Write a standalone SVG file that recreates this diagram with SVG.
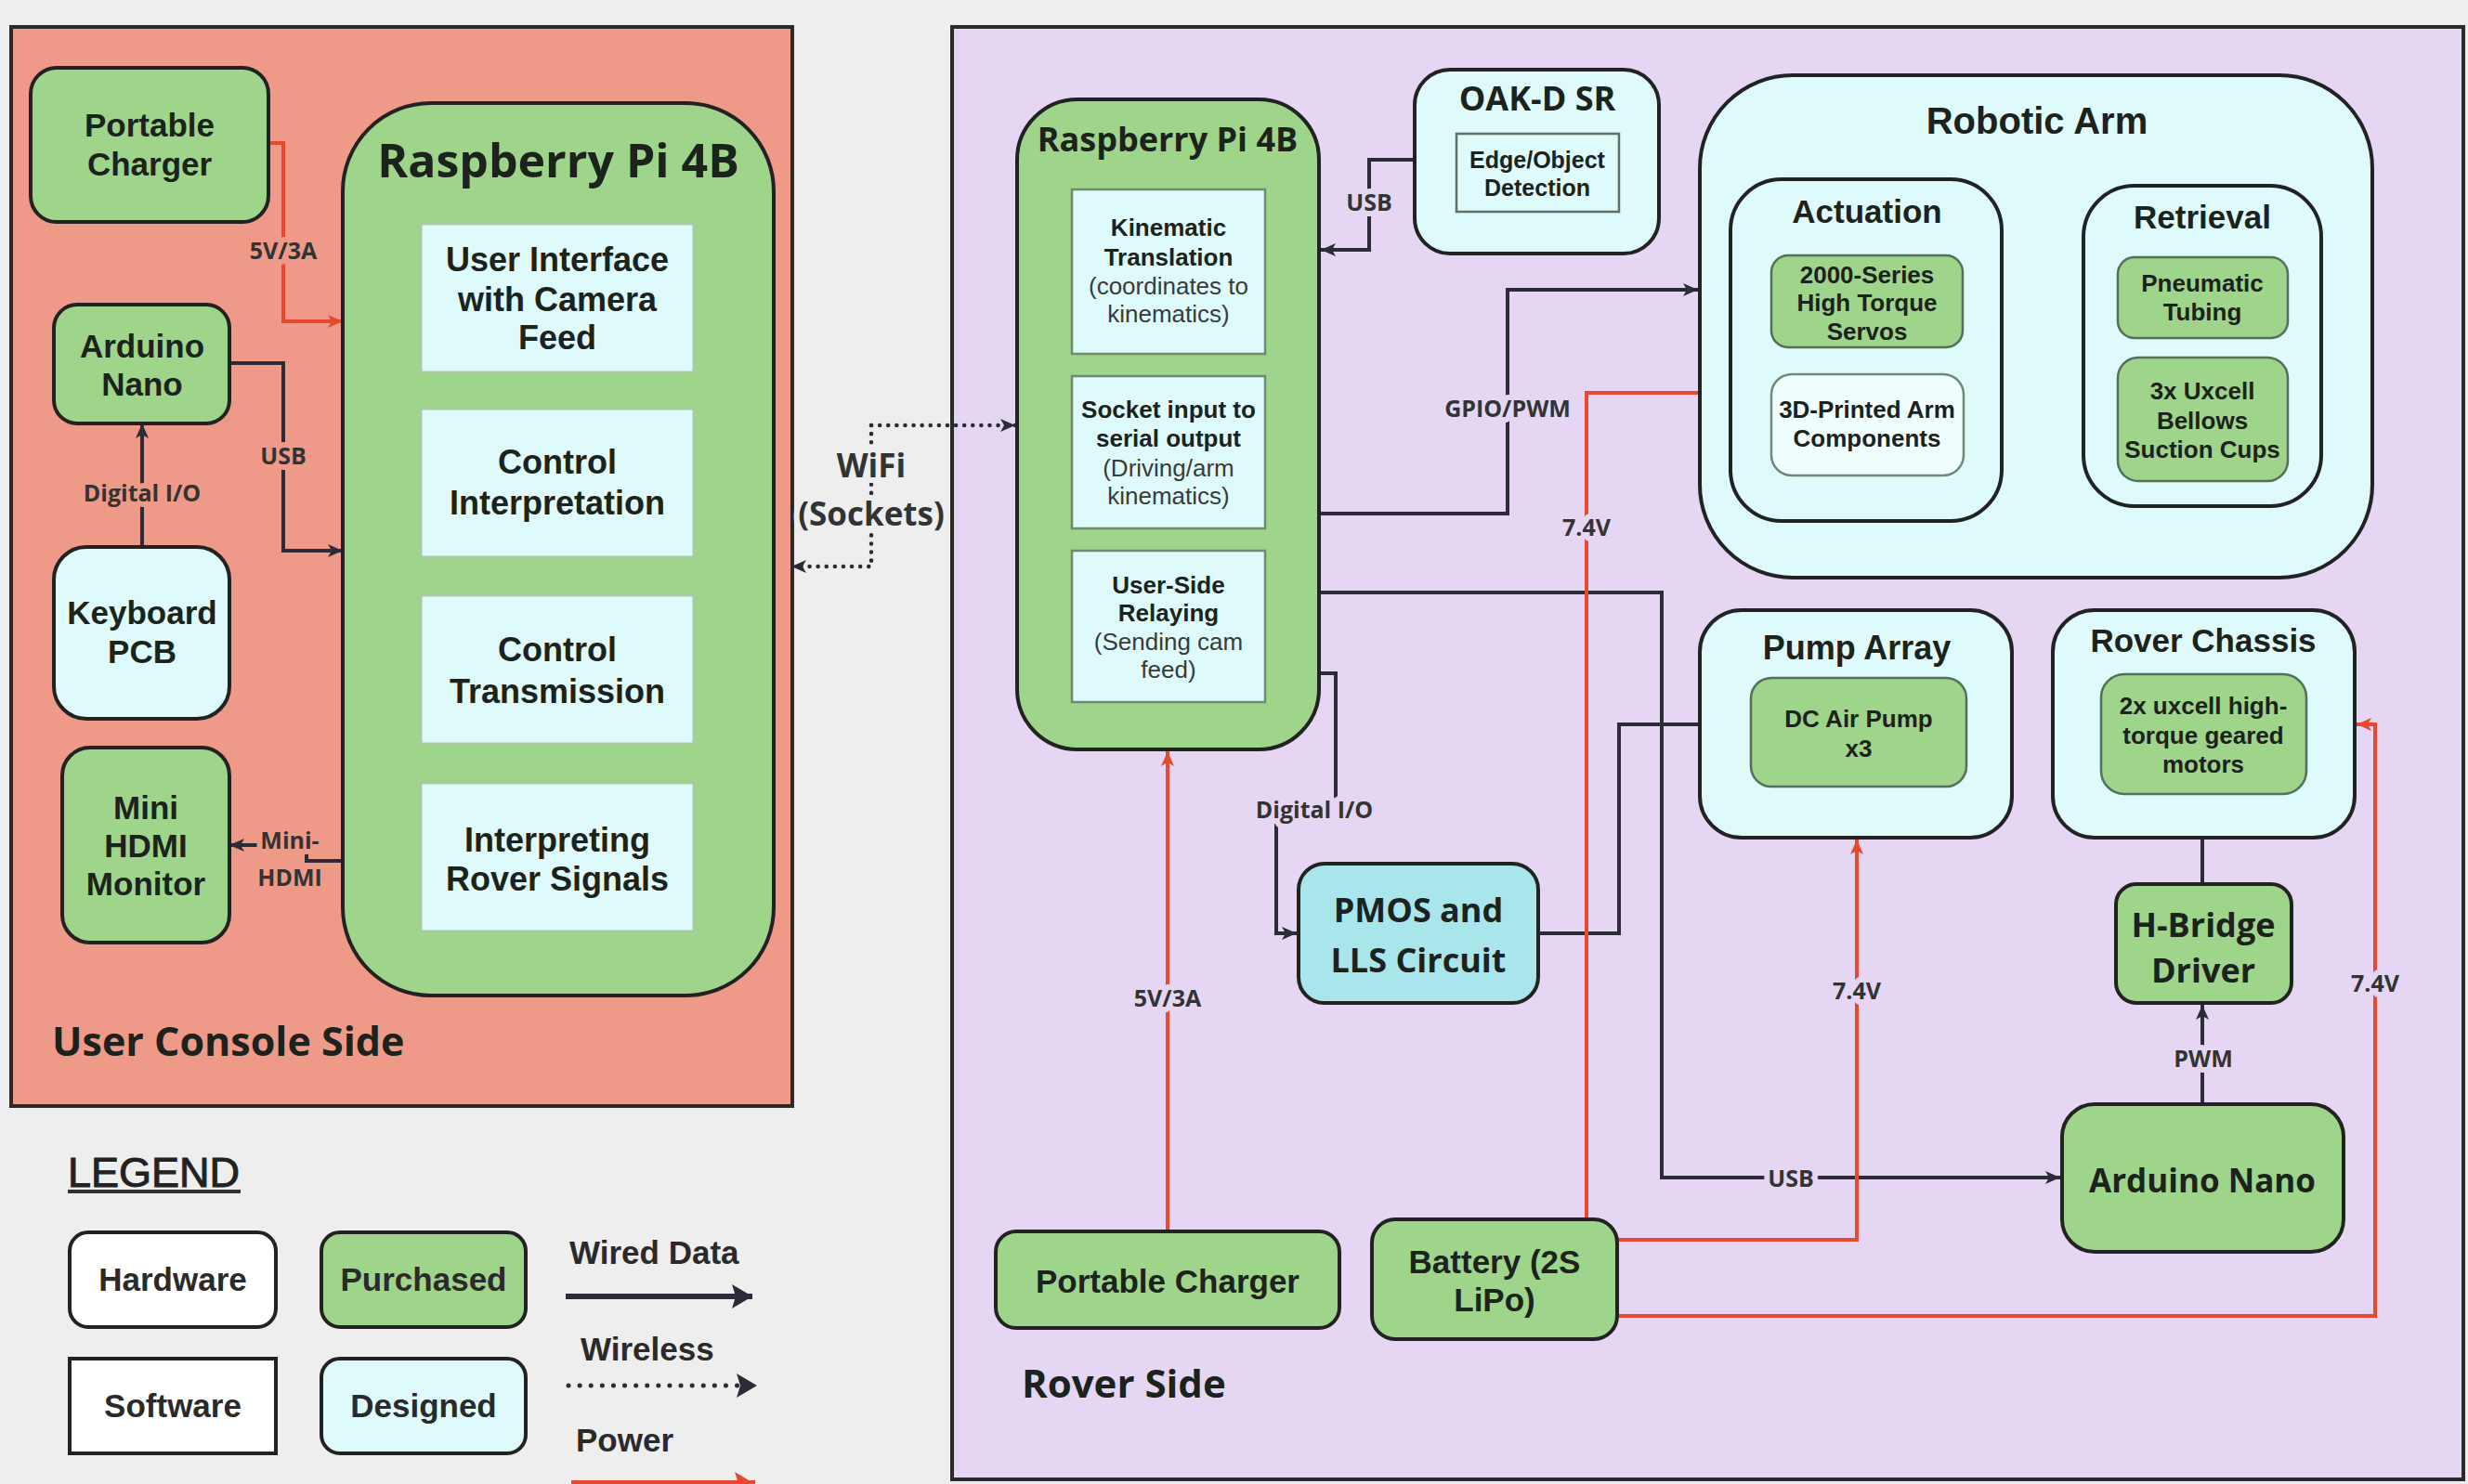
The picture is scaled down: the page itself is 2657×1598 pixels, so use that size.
<svg xmlns="http://www.w3.org/2000/svg" width="2657" height="1598" viewBox="0 0 2657 1598">
<defs>
<style>
.t{font-family:"Liberation Sans",Arial,sans-serif;font-weight:bold;fill:#1c221c;text-anchor:middle;dominant-baseline:central}
.o{font-family:"Open Sans","Noto Sans",sans-serif;font-weight:bold;fill:#1c221c;text-anchor:middle;dominant-baseline:central}
.r{font-weight:normal;fill:#3a3a3a}
.box{stroke:#222;stroke-width:4}
.gr{fill:#9ED58B}
.cy{fill:#DEFAFA}
.sw{fill:#DEFAFA;stroke:#A9C9A3;stroke-width:3}
.sw2{fill:#DEFAFA;stroke:#6E8A70;stroke-width:2.5}
.sub{stroke:#55705a;stroke-width:2.5}
.w{fill:none;stroke:#2E2B38;stroke-width:4}
.p{fill:none;stroke:#E6492D;stroke-width:4}
.d{fill:none;stroke:#2E2B38;stroke-width:4.5;stroke-dasharray:0.1 9;stroke-linecap:round}
.lb{font-family:"Open Sans","Noto Sans",sans-serif;font-weight:bold;font-size:25px;fill:#333;text-anchor:middle;dominant-baseline:central;paint-order:stroke;stroke-width:12;stroke-linejoin:round}
.hs{stroke:#EF9A88}
.hr{stroke:#E5D7F3}
.hg{stroke:#EEEEEE}
.lg{font-family:"Liberation Sans",Arial,sans-serif;font-weight:bold;font-size:35px;fill:#2a2a2a;dominant-baseline:central}
</style>
<marker id="a" viewBox="0 0 16 14" refX="16" refY="7" markerWidth="16" markerHeight="14" markerUnits="userSpaceOnUse" orient="auto"><path d="M0,0 L16,7 L0,14 L4,7 z" fill="#2E2B38"/></marker>
<marker id="ar" viewBox="0 0 16 14" refX="16" refY="7" markerWidth="16" markerHeight="14" markerUnits="userSpaceOnUse" orient="auto"><path d="M0,0 L16,7 L0,14 L4,7 z" fill="#E6492D"/></marker>
<marker id="al" viewBox="0 0 22 26" refX="22" refY="13" markerWidth="22" markerHeight="26" markerUnits="userSpaceOnUse" orient="auto"><path d="M0,0 L22,13 L0,26 L4,13 z" fill="#2E2B38"/></marker>
<marker id="alr" viewBox="0 0 22 26" refX="22" refY="13" markerWidth="22" markerHeight="26" markerUnits="userSpaceOnUse" orient="auto"><path d="M0,0 L22,13 L0,26 L4,13 z" fill="#E6492D"/></marker>
</defs>

<rect x="0" y="0" width="2657" height="1598" fill="#EEEEEE"/>

<g id="user-console-side">
<rect x="12" y="29" width="841" height="1162" fill="#EF9A88" stroke="#2a2a2a" stroke-width="4"/>
<text class="o" x="56" y="1120" font-size="43" style="text-anchor:start">User Console Side</text>
</g>

<g id="rover-side">
<rect x="1025" y="29" width="1627" height="1564" fill="#E5D7F3" stroke="#2a2a2a" stroke-width="4"/>
<text class="o" x="1100" y="1488" font-size="42" style="text-anchor:start">Rover Side</text>
</g>

<g id="connectors">
<path class="p" d="M289,154 H305 V346 H369" marker-end="url(#ar)"/>
<text class="lb hs" x="305" y="269">5V/3A</text>
<path class="w" d="M247,391 H305 V593 H369" marker-end="url(#a)"/>
<text class="lb hs" x="305" y="490">USB</text>
<path class="w" d="M153,589 V456" marker-end="url(#a)"/>
<text class="lb hs" x="153" y="530">Digital I/O</text>
<path class="w" d="M369,927 H330 V910 H247" marker-end="url(#a)"/>
<text class="lb hs" x="312" y="904">Mini-</text>
<text class="lb hs" x="312" y="944">HDMI</text>
<path class="d" d="M938,458 H1093" marker-end="url(#a)"/>
<path class="d" d="M938,458 V610 H852" marker-end="url(#a)"/>
<text class="lb hg" x="938" y="500" style="font-size:35px">WiFi</text>
<text class="lb hg" x="938" y="552" style="font-size:35px">(Sockets)</text>
<path class="w" d="M1523,172 H1474 V269 H1422" marker-end="url(#a)"/>
<text class="lb hr" x="1474" y="217">USB</text>
<path class="w" d="M1420,553 H1623 V312 H1828" marker-end="url(#a)"/>
<text class="lb hr" x="1623" y="439">GPIO/PWM</text>
<path class="w" d="M1420,638 H1789 V1268 H2218" marker-end="url(#a)"/>
<text class="lb hr" x="1928" y="1268">USB</text>
<path class="w" d="M1420,725 H1438 V871 H1374 V1005 H1396" marker-end="url(#a)"/>
<text class="lb hr" x="1415" y="871">Digital I/O</text>
<path class="w" d="M1656,1005 H1743 V780 H1830"/>
<path class="w" d="M2371,902 V952"/>
<path class="w" d="M2371,1189 V1082" marker-end="url(#a)"/>
<text class="lb hr" x="2372" y="1139">PWM</text>
<path class="p" d="M1257,1326 V809" marker-end="url(#ar)"/>
<text class="lb hr" x="1257" y="1074">5V/3A</text>
<path class="p" d="M1708,1313 V423 H1830"/>
<text class="lb hr" x="1708" y="567">7.4V</text>
<path class="p" d="M1741,1335 H1999 V904" marker-end="url(#ar)"/>
<text class="lb hr" x="1999" y="1066">7.4V</text>
<path class="p" d="M1741,1417 H2557 V780 H2537" marker-end="url(#ar)"/>
<text class="lb hr" x="2557" y="1058">7.4V</text>
</g>

<g id="portable-charger-user">
<rect class="box gr" x="33" y="73" width="256" height="166" rx="28"/>
<text class="t" x="161" y="134" font-size="35">Portable</text>
<text class="t" x="161" y="176" font-size="35">Charger</text>
</g>
<g id="arduino-nano-user">
<rect class="box gr" x="58" y="328" width="189" height="128" rx="25"/>
<text class="t" x="153" y="372" font-size="35">Arduino</text>
<text class="t" x="153" y="413" font-size="35">Nano</text>
</g>
<g id="keyboard-pcb">
<rect class="box cy" x="58" y="589" width="189" height="185" rx="35"/>
<text class="t" x="153" y="659" font-size="35">Keyboard</text>
<text class="t" x="153" y="701" font-size="35">PCB</text>
</g>
<g id="mini-hdmi-monitor">
<rect class="box gr" x="67" y="805" width="180" height="210" rx="30"/>
<text class="t" x="157" y="869" font-size="35">Mini</text>
<text class="t" x="157" y="910" font-size="35">HDMI</text>
<text class="t" x="157" y="951" font-size="35">Monitor</text>
</g>
<g id="rpi-user">
<rect class="box gr" x="369" y="111" width="464" height="961" rx="95"/>
<text class="o" x="601" y="172" font-size="50">Raspberry Pi 4B</text>
<rect class="sw" x="453" y="241" width="294" height="160"/>
<text class="t" x="600" y="279" font-size="36">User Interface</text>
<text class="t" x="600" y="322" font-size="36">with Camera</text>
<text class="t" x="600" y="363" font-size="36">Feed</text>
<rect class="sw" x="453" y="440" width="294" height="160"/>
<text class="t" x="600" y="497" font-size="36">Control</text>
<text class="t" x="600" y="541" font-size="36">Interpretation</text>
<rect class="sw" x="453" y="641" width="294" height="160"/>
<text class="t" x="600" y="699" font-size="36">Control</text>
<text class="t" x="600" y="744" font-size="36">Transmission</text>
<rect class="sw" x="453" y="843" width="294" height="160"/>
<text class="t" x="600" y="904" font-size="36">Interpreting</text>
<text class="t" x="600" y="946" font-size="36">Rover Signals</text>
</g>

<g id="rpi-rover">
<rect class="box gr" x="1095" y="107" width="325" height="700" rx="65"/>
<text class="o" x="1257" y="149" font-size="36">Raspberry Pi 4B</text>
<rect class="sw2" x="1154" y="204" width="208" height="177"/>
<text class="t" x="1258" y="245" font-size="26">Kinematic</text>
<text class="t" x="1258" y="277" font-size="26">Translation</text>
<text class="t r" x="1258" y="308" font-size="26">(coordinates to</text>
<text class="t r" x="1258" y="338" font-size="26">kinematics)</text>
<rect class="sw2" x="1154" y="405" width="208" height="164"/>
<text class="t" x="1258" y="441" font-size="26">Socket input to</text>
<text class="t" x="1258" y="472" font-size="26">serial output</text>
<text class="t r" x="1258" y="504" font-size="26">(Driving/arm</text>
<text class="t r" x="1258" y="534" font-size="26">kinematics)</text>
<rect class="sw2" x="1154" y="593" width="208" height="163"/>
<text class="t" x="1258" y="630" font-size="26">User-Side</text>
<text class="t" x="1258" y="660" font-size="26">Relaying</text>
<text class="t r" x="1258" y="691" font-size="26">(Sending cam</text>
<text class="t r" x="1258" y="721" font-size="26">feed)</text>
</g>
<g id="oak-d-sr">
<rect class="box cy" x="1523" y="75" width="263" height="198" rx="38"/>
<text class="o" x="1655" y="105" font-size="36">OAK-D SR</text>
<rect x="1568" y="144" width="175" height="84" fill="#DEFAFA" stroke="#5f6f66" stroke-width="2.5"/>
<text class="t" x="1655" y="172" font-size="25">Edge/Object</text>
<text class="t" x="1655" y="202" font-size="25">Detection</text>
</g>
<g id="robotic-arm">
<rect class="box cy" x="1830" y="81" width="724" height="541" rx="100"/>
<text class="t" x="2193" y="130" font-size="40">Robotic Arm</text>
<rect class="box cy" x="1863" y="193" width="292" height="368" rx="55"/>
<text class="t" x="2010" y="227" font-size="35">Actuation</text>
<rect class="sub gr" x="1907" y="275" width="206" height="99" rx="18"/>
<text class="t" x="2010" y="296" font-size="26">2000-Series</text>
<text class="t" x="2010" y="326" font-size="26">High Torque</text>
<text class="t" x="2010" y="357" font-size="26">Servos</text>
<rect x="1907" y="403" width="207" height="109" rx="22" fill="#F0FEFE" stroke="#6f8a78" stroke-width="2.5"/>
<text class="t" x="2010" y="441" font-size="26">3D-Printed Arm</text>
<text class="t" x="2010" y="472" font-size="26">Components</text>
<rect class="box cy" x="2243" y="200" width="256" height="345" rx="55"/>
<text class="t" x="2371" y="233" font-size="35">Retrieval</text>
<rect class="sub gr" x="2280" y="277" width="183" height="87" rx="18"/>
<text class="t" x="2371" y="305" font-size="26">Pneumatic</text>
<text class="t" x="2371" y="336" font-size="26">Tubing</text>
<rect class="sub gr" x="2280" y="385" width="183" height="133" rx="22"/>
<text class="t" x="2371" y="421" font-size="26">3x Uxcell</text>
<text class="t" x="2371" y="453" font-size="26">Bellows</text>
<text class="t" x="2371" y="484" font-size="26">Suction Cups</text>
</g>
<g id="pump-array">
<rect class="box cy" x="1830" y="657" width="336" height="245" rx="45"/>
<text class="t" x="1999" y="697" font-size="36">Pump Array</text>
<rect class="sub gr" x="1885" y="730" width="232" height="117" rx="22"/>
<text class="t" x="2001" y="774" font-size="26">DC Air Pump</text>
<text class="t" x="2001" y="806" font-size="26">x3</text>
</g>
<g id="rover-chassis">
<rect class="box cy" x="2210" y="657" width="325" height="245" rx="45"/>
<text class="t" x="2372" y="689" font-size="35">Rover Chassis</text>
<rect class="sub gr" x="2262" y="726" width="221" height="129" rx="25"/>
<text class="t" x="2372" y="760" font-size="26">2x uxcell high-</text>
<text class="t" x="2372" y="792" font-size="26">torque geared</text>
<text class="t" x="2372" y="823" font-size="26">motors</text>
</g>
<g id="h-bridge-driver">
<rect class="box gr" x="2278" y="952" width="189" height="128" rx="22"/>
<text class="o" x="2372" y="995" font-size="36">H-Bridge</text>
<text class="o" x="2372" y="1044" font-size="36">Driver</text>
</g>
<g id="pmos-lls">
<rect class="box" x="1398" y="930" width="258" height="150" rx="28" fill="#A8E6EC"/>
<text class="o" x="1527" y="979" font-size="36">PMOS and</text>
<text class="o" x="1527" y="1033" font-size="36">LLS Circuit</text>
</g>
<g id="arduino-nano-rover">
<rect class="box gr" x="2220" y="1189" width="303" height="159" rx="35"/>
<text class="o" x="2371" y="1270" font-size="35">Arduino Nano</text>
</g>
<g id="portable-charger-rover">
<rect class="box gr" x="1072" y="1326" width="370" height="104" rx="22"/>
<text class="t" x="1257" y="1379" font-size="35">Portable Charger</text>
</g>
<g id="battery">
<rect class="box gr" x="1477" y="1313" width="264" height="129" rx="25"/>
<text class="t" x="1609" y="1358" font-size="35">Battery (2S</text>
<text class="t" x="1609" y="1399" font-size="35">LiPo)</text>
</g>

<g id="legend">
<text x="73" y="1262" font-family="Liberation Sans, Arial, sans-serif" font-size="45" fill="#222" stroke="#222" stroke-width="1" dominant-baseline="central">LEGEND</text>
<rect x="73" y="1281" width="186" height="4" fill="#333"/>
<rect class="box" x="75" y="1327" width="222" height="102" rx="20" fill="#FFFFFF"/>
<text class="t" x="186" y="1377" font-size="35" style="fill:#2a2a2a">Hardware</text>
<rect class="box gr" x="346" y="1327" width="220" height="102" rx="20"/>
<text class="t" x="456" y="1377" font-size="35" style="fill:#2a2a2a">Purchased</text>
<rect class="box" x="75" y="1463" width="222" height="102" fill="#FFFFFF"/>
<text class="t" x="186" y="1513" font-size="35" style="fill:#2a2a2a">Software</text>
<rect class="box cy" x="346" y="1463" width="220" height="102" rx="20"/>
<text class="t" x="456" y="1513" font-size="35" style="fill:#2a2a2a">Designed</text>
<text class="lg" x="613" y="1348">Wired Data</text>
<path d="M609,1396 H810" fill="none" stroke="#2E2B38" stroke-width="6" marker-end="url(#al)"/>
<text class="lg" x="625" y="1452">Wireless</text>
<path d="M612,1492 H812" fill="none" stroke="#2E2B38" stroke-width="5" stroke-dasharray="0.1 12" stroke-linecap="round"/>
<path d="M793,1479 L815,1492 L793,1505 L797,1492 z" fill="#2E2B38"/>
<text class="lg" x="620" y="1550">Power</text>
<path d="M615,1598 H813" fill="none" stroke="#E6492D" stroke-width="8" marker-end="url(#alr)"/>
</g>
</svg>
